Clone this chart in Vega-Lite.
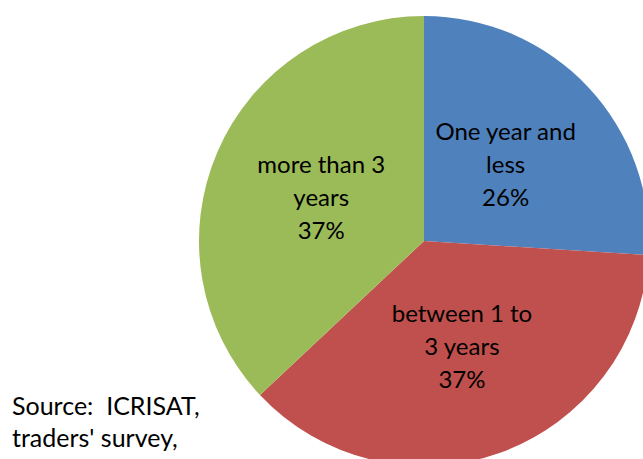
{
  "$schema": "https://vega.github.io/schema/vega-lite/v6.json",
  "width": 838,
  "height": 472,
  "padding": 5,
  "background": "white",
  "config": {"view": {"stroke": null}},
  "title": {
    "text": ["Source:\u00a0 ICRISAT,", "traders' survey,"],
    "orient": "bottom",
    "anchor": "start",
    "frame": "group",
    "offset": -82,
    "dx": 7,
    "font": "Lato",
    "fontSize": 25,
    "fontWeight": "normal",
    "lineHeight": 32,
    "color": "#000000"
  },
  "data": {
    "values": [
      {"category": "One year and less", "value": 26, "order": 1, "label": "One year and\nless\n26%"},
      {"category": "between 1 to 3 years", "value": 37, "order": 2, "label": "between 1 to\n3 years\n37%"},
      {"category": "more than 3 years", "value": 37, "order": 3, "label": "more than 3\nyears\n37%"}
    ]
  },
  "encoding": {
    "theta": {"field": "value", "type": "quantitative", "stack": true},
    "order": {"field": "order", "type": "quantitative"},
    "color": {
      "field": "category",
      "type": "nominal",
      "scale": {
        "domain": ["One year and less", "between 1 to 3 years", "more than 3 years"],
        "range": ["#4F81BD", "#C0504D", "#9BBB59"]
      },
      "legend": null
    }
  },
  "layer": [
    {"mark": {"type": "arc", "outerRadius": 225}},
    {
      "mark": {"type": "text", "radius": 112, "dy": -31, "font": "Lato", "fontSize": 24, "lineHeight": 33, "lineBreak": "\n", "align": "center", "baseline": "middle"},
      "encoding": {
        "text": {"field": "label", "type": "nominal"},
        "color": {"value": "#000000"}
      }
    }
  ]
}
